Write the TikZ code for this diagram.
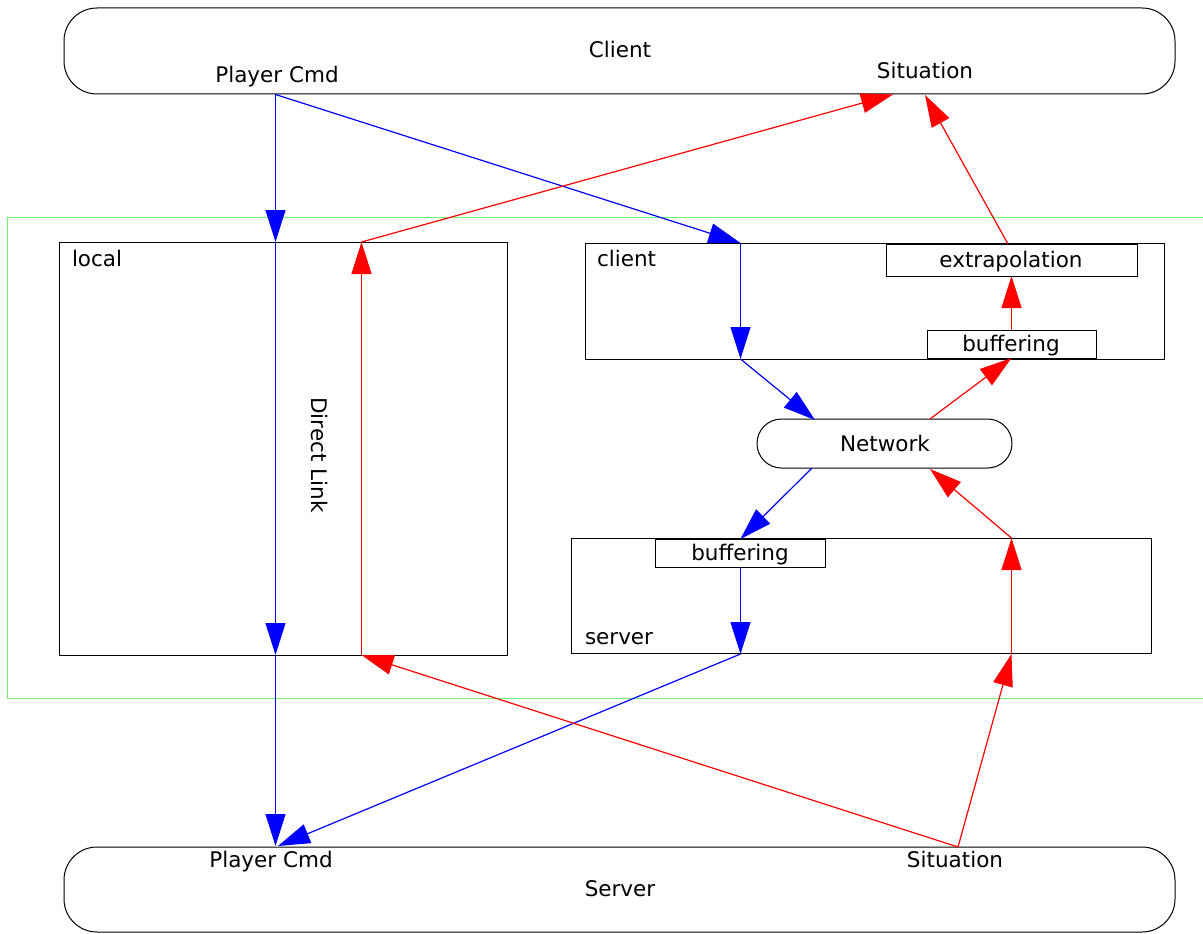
\documentclass[tikz,border=0pt]{standalone}
\usepackage{fontspec}
\setmainfont{DejaVu Sans}
\usetikzlibrary{arrows.meta,calc}
\definecolor{frame}{RGB}{110,245,110}
\begin{document}
\begin{tikzpicture}[x=1pt,y=-1pt,
  every node/.style={font=\fontsize{21.5}{25}\selectfont, inner sep=0pt, outer sep=0pt},
  box/.style={draw=black, line width=1pt, rectangle},
  lbl/.style={anchor=base},
  bl/.style={draw=blue, line width=1.2pt, -{Triangle[length=32pt,width=20pt]}},
  rd/.style={draw=red, line width=1.2pt, -{Triangle[length=32pt,width=20pt]}}]
\useasboundingbox (0,0) rectangle (1203,934);
% green frame
\draw[frame, line width=1.4pt] (7.5,217.5) rectangle (1215,698.5);
% big boxes
\node[box, rounded corners=33pt, minimum width=1111pt, minimum height=86pt] (client) at (619.5,51) {};
\node[box, rounded corners=33pt, minimum width=1111pt, minimum height=85pt] (server) at (619.5,889.5) {};
\node[lbl] (clientlbl) at (620,58) {Client};
\node[lbl] (ccmd) at (277,82) {Player Cmd};
\node[lbl] (csit) at (925,79) {Situation};
\node[lbl] (serverlbl) at (620,896) {Server};
\node[lbl] (scmd) at (271,867) {Player Cmd};
\node[lbl] (ssit) at (955,867) {Situation};
% inner boxes
\node[box, minimum width=448pt, minimum height=413pt] (local) at (283,448.5) {};
\node[lbl, anchor=base west] (locallbl) at (72,266) {local};
\node[box, minimum width=579pt, minimum height=116pt] (cbox) at (874.5,301) {};
\node[lbl, anchor=base west] (cboxlbl) at (597,266) {client};
\node[box, fill=white, minimum width=251pt, minimum height=32pt] (extr) at (1011.5,260) {};
\node[lbl] at (1011,267) {extrapolation};
\node[box, fill=white, minimum width=169pt, minimum height=28pt] (bufc) at (1011.5,344) {};
\node[lbl] at (1011,351) {buffering};
\node[box, rounded corners=24.5pt, minimum width=255pt, minimum height=49pt] (net) at (884.5,443.5) {};
\node[lbl] at (885,451) {Network};
\node[box, minimum width=580pt, minimum height=115pt] (sbox) at (861,595.5) {};
\node[lbl, anchor=base west] (sboxlbl) at (585,644) {server};
\node[box, fill=white, minimum width=170pt, minimum height=28pt] (bufs) at (740.5,553) {};
\node[lbl] at (740,560) {buffering};
\node[rotate=-90] (dl) at (320,455) {Direct Link};
% coordinates
\coordinate (pc) at (275.5,94.5);
\coordinate (lt) at (275.5,242);
\coordinate (lb) at (275.5,655);
\coordinate (sp) at (275.5,846);
\coordinate (ct) at (740.5,243);
\coordinate (cb) at (740.5,359);
\coordinate (nw1) at (815,420);
\coordinate (nw2) at (812,468);
\coordinate (svb) at (740.5,654);
\coordinate (sp2) at (278,846);
\coordinate (ss) at (958,847);
\coordinate (svr) at (1011.5,654);
\coordinate (svt) at (1011.5,538);
\coordinate (nw3) at (930,469);
\coordinate (nw4) at (930,419);
\coordinate (ext) at (1008,244);
\coordinate (cs) at (925,95);
\coordinate (lr) at (361.5,655);
\coordinate (lrt) at (361.5,242);
\coordinate (cs2) at (893,94.5);
% blue
\draw[bl] (pc) -- (lt);
\draw[bl] (lt) -- (lb);
\draw[bl] (lb) -- (sp);
\draw[bl] (pc) -- (ct);
\draw[bl] (ct) -- (cb);
\draw[bl] (cb) -- (nw1);
\draw[bl] (nw2) -- (bufs.north);
\draw[bl] (bufs.south) -- (svb);
\draw[bl] (svb) -- (sp2);
% red
\draw[rd] (ss) -- (svr);
\draw[rd] (svr) -- (svt);
\draw[rd] (svt) -- (nw3);
\draw[rd] (nw4) -- (bufc.south);
\draw[rd] (bufc.north) -- (extr.south);
\draw[rd] (ext) -- (cs);
\draw[rd] (ss) -- (lr);
\draw[rd] (lr) -- (lrt);
\draw[rd] (lrt) -- (cs2);
\end{tikzpicture}
\end{document}
